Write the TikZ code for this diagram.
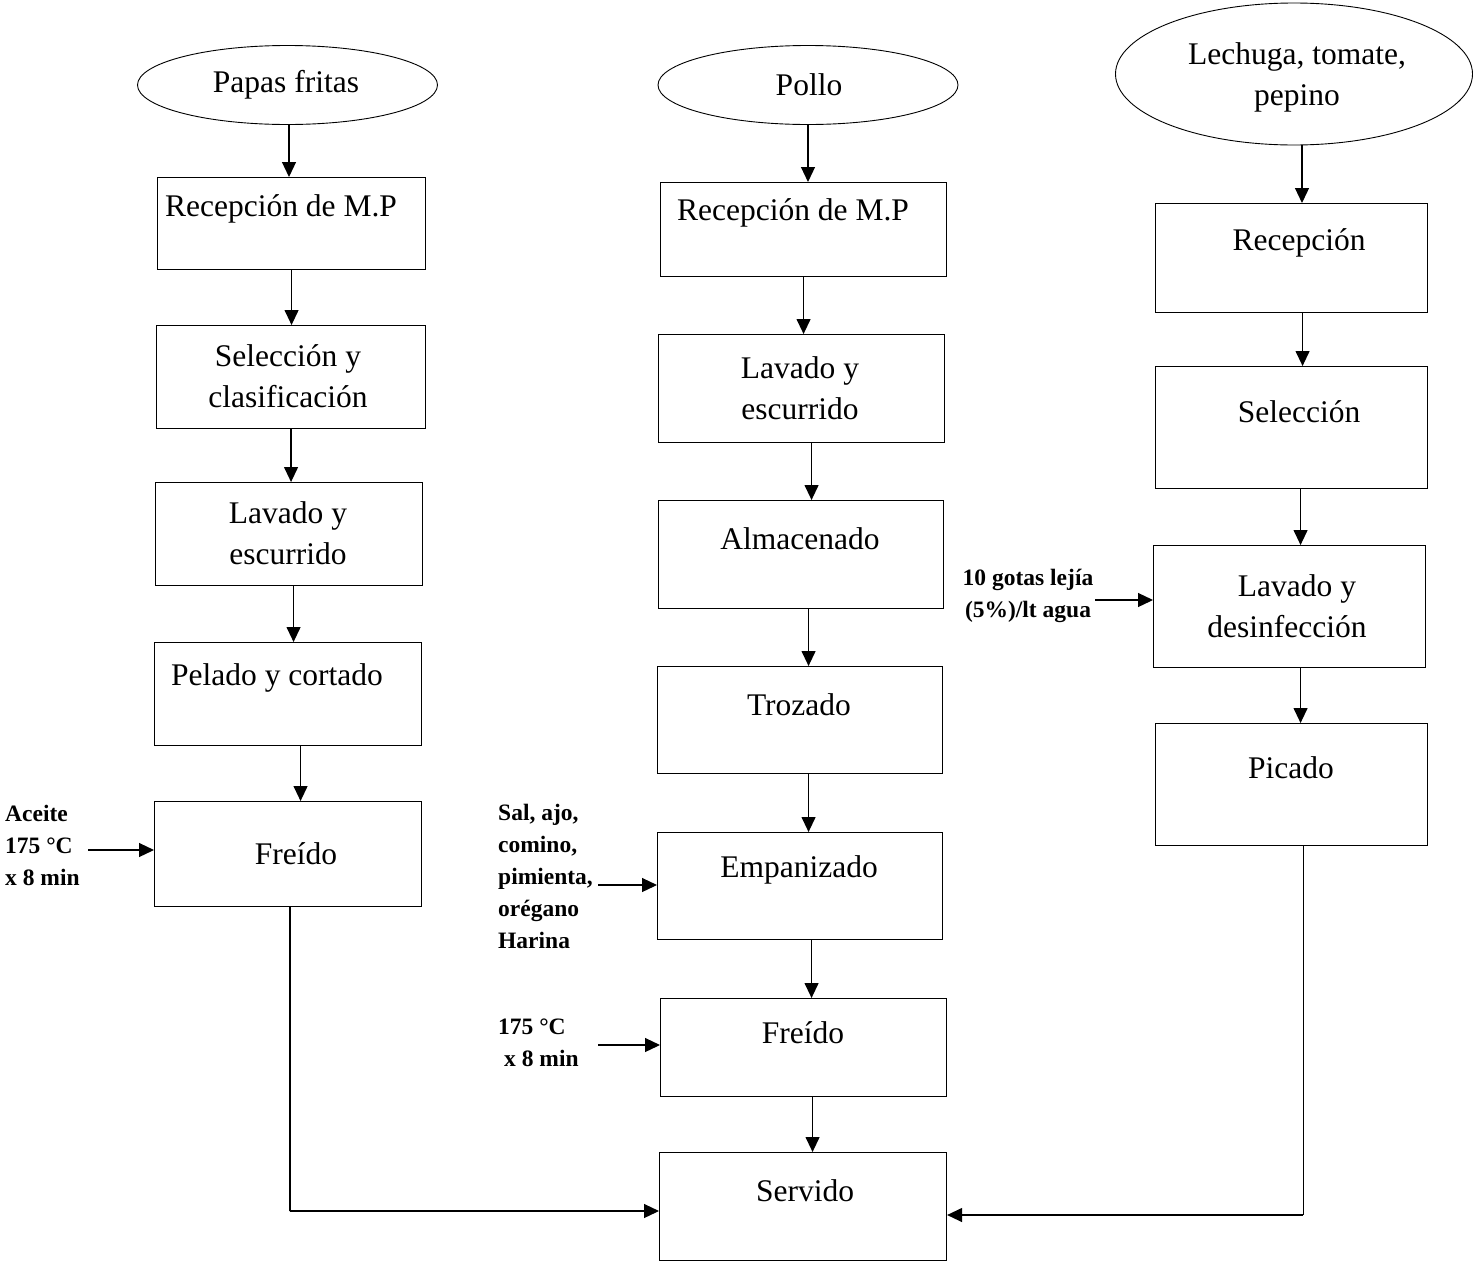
\documentclass[tikz,border=0pt]{standalone}
\usepackage{fontspec}
\setmainfont{Liberation Serif}
\usetikzlibrary{shapes.geometric,arrows.meta}
\begin{document}
\begin{tikzpicture}[x=1pt,y=-1pt,
  stepbox/.style={draw, line width=1.1pt, inner sep=0pt, anchor=north west},
  start/.style={draw, ellipse, line width=0.9pt, inner sep=0pt},
  txt/.style={font=\fontsize{31.5}{41}\selectfont, align=center, inner sep=0pt},
  note/.style={font=\bfseries\fontsize{23.5}{32}\selectfont, inner sep=0pt},
  arr/.style={line width=1.2pt, -{Triangle[length=15pt,width=14pt]}},
  link/.style={line width=1.2pt}]
\useasboundingbox (0,0) rectangle (1475,1264);

% ---------- Papas fritas ----------
\node[start, minimum width=300pt, minimum height=79pt] (e1) at (287.5,85) {};
\node[txt] (e1t) at (286,85) {Papas fritas};
\node[stepbox, minimum width=268pt, minimum height=92pt] (r1) at (157,177) {};
\node[txt] (r1t) at (281,209) {Recepción de M.P};
\node[stepbox, minimum width=269pt, minimum height=103pt] (s1) at (156,325) {};
\node[txt] (s1t) at (288,376) {Selección y\\clasificación};
\node[stepbox, minimum width=267pt, minimum height=103pt] (l1) at (155,482) {};
\node[txt] (l1t) at (288,533) {Lavado y\\escurrido};
\node[stepbox, minimum width=267pt, minimum height=103pt] (p1) at (154,642) {};
\node[txt] (p1t) at (277,678) {Pelado y cortado};
\node[stepbox, minimum width=267pt, minimum height=105pt] (f1) at (154,801) {};
\node[txt] (f1t) at (296,854) {Freído};

\draw[arr] ([xshift=1.5pt]e1.south) -- ([xshift=1.5pt]e1.south |- r1.north);
\draw[arr] (r1.south) -- (r1.south |- s1.north);
\draw[arr] (s1.south) -- (s1.south |- l1.north);
\draw[arr] ([xshift=4.5pt]l1.south) -- ([xshift=4.5pt]l1.south |- p1.north);
\draw[arr] ([xshift=12.5pt]p1.south) -- ([xshift=12.5pt]p1.south |- f1.north);

\node[note, anchor=west, align=left] (n1) at (5,845) {Aceite\\175 °C\\x 8 min};
\coordinate (n1a) at (88,850);
\draw[arr] (n1a) -- (n1a -| f1.west);

% ---------- Pollo ----------
\node[start, minimum width=300pt, minimum height=79pt] (e2) at (808,85) {};
\node[txt] (e2t) at (809,85) {Pollo};
\node[stepbox, minimum width=286pt, minimum height=94pt] (r2) at (660,182) {};
\node[txt] (r2t) at (793,213) {Recepción de M.P};
\node[stepbox, minimum width=286pt, minimum height=108pt] (l2) at (658,334) {};
\node[txt] (l2t) at (800,388) {Lavado y\\escurrido};
\node[stepbox, minimum width=285pt, minimum height=108pt] (a2) at (658,500) {};
\node[txt] (a2t) at (800,539) {Almacenado};
\node[stepbox, minimum width=285pt, minimum height=107pt] (t2) at (657,666) {};
\node[txt] (t2t) at (799,705) {Trozado};
\node[stepbox, minimum width=285pt, minimum height=107pt] (m2) at (657,832) {};
\node[txt] (m2t) at (799,870) {Empanizado};
\node[stepbox, minimum width=286pt, minimum height=98pt] (f2) at (660,998) {};
\node[txt] (f2t) at (803,1033) {Freído};
\node[stepbox, minimum width=287pt, minimum height=108pt] (sv) at (659,1152) {};
\node[txt] (svt) at (805,1191) {Servido};

\draw[arr] (e2.south) -- (e2.south |- r2.north);
\draw[arr] (r2.south) -- (r2.south |- l2.north);
\draw[arr] ([xshift=10pt]l2.south) -- ([xshift=10pt]l2.south |- a2.north);
\draw[arr] ([xshift=7.5pt]a2.south) -- ([xshift=7.5pt]a2.south |- t2.north);
\draw[arr] ([xshift=8.5pt]t2.south) -- ([xshift=8.5pt]t2.south |- m2.north);
\draw[arr] ([xshift=11.5pt]m2.south) -- ([xshift=11.5pt]m2.south |- f2.north);
\draw[arr] ([xshift=9pt]f2.south) -- ([xshift=9pt]f2.south |- sv.north);

\node[note, anchor=west, align=left] (n2) at (498,876) {Sal, ajo,\\comino,\\pimienta,\\orégano\\Harina};
\coordinate (n2a) at (598,885);
\draw[arr] (n2a) -- (n2a -| m2.west);

\node[note, anchor=west, align=left] (n3) at (498,1043) {175 °C\\\hspace*{6pt}x 8 min};
\coordinate (n3a) at (598,1045);
\draw[arr] (n3a) -- (n3a -| f2.west);

% ---------- Lechuga, tomate, pepino ----------
\node[start, minimum width=357pt, minimum height=142pt] (e3) at (1294,74) {};
\node[txt] (e3t) at (1297,77) {Lechuga, tomate,\\pepino};
\node[stepbox, minimum width=272pt, minimum height=109pt] (c3) at (1155,203) {};
\node[txt] (c3t) at (1299,243) {Recepción};
\node[stepbox, minimum width=272pt, minimum height=122pt] (s3) at (1155,366) {};
\node[txt] (s3t) at (1299,412) {Selección};
\node[stepbox, minimum width=272pt, minimum height=122pt] (l3) at (1153,545) {};
\node[txt] (l3t) at (1287,606) {\hspace*{20pt}Lavado y\\desinfección};
\node[stepbox, minimum width=272pt, minimum height=122pt] (p3) at (1155,723) {};
\node[txt] (p3t) at (1291,768) {Picado};

\draw[arr] ([xshift=8pt]e3.south) -- ([xshift=8pt]e3.south |- c3.north);
\draw[arr] ([xshift=11pt]c3.south) -- ([xshift=11pt]c3.south |- s3.north);
\draw[arr] ([xshift=9pt]s3.south) -- ([xshift=9pt]s3.south |- l3.north);
\draw[arr] ([xshift=11pt]l3.south) -- ([xshift=11pt]l3.south |- p3.north);

\node[note, align=center] (n4) at (1028,596) {10 gotas lejía\\(5\%)/lt agua};
\coordinate (n4a) at (1095,600);
\draw[arr] (n4a) -- (n4a -| l3.west);

% ---------- joining lines into Servido ----------
\coordinate (j1) at (290,1211);
\draw[link] ([xshift=2pt]f1.south) -- ([xshift=2pt]f1.south |- j1) -- (j1);
\draw[arr] (j1) -- (j1 -| sv.west);
\coordinate (j3) at (1303,1215);
\draw[link] ([xshift=12pt]p3.south) -- ([xshift=12pt]p3.south |- j3);
\draw[arr] (j3) -- (j3 -| sv.east);
\end{tikzpicture}
\end{document}
